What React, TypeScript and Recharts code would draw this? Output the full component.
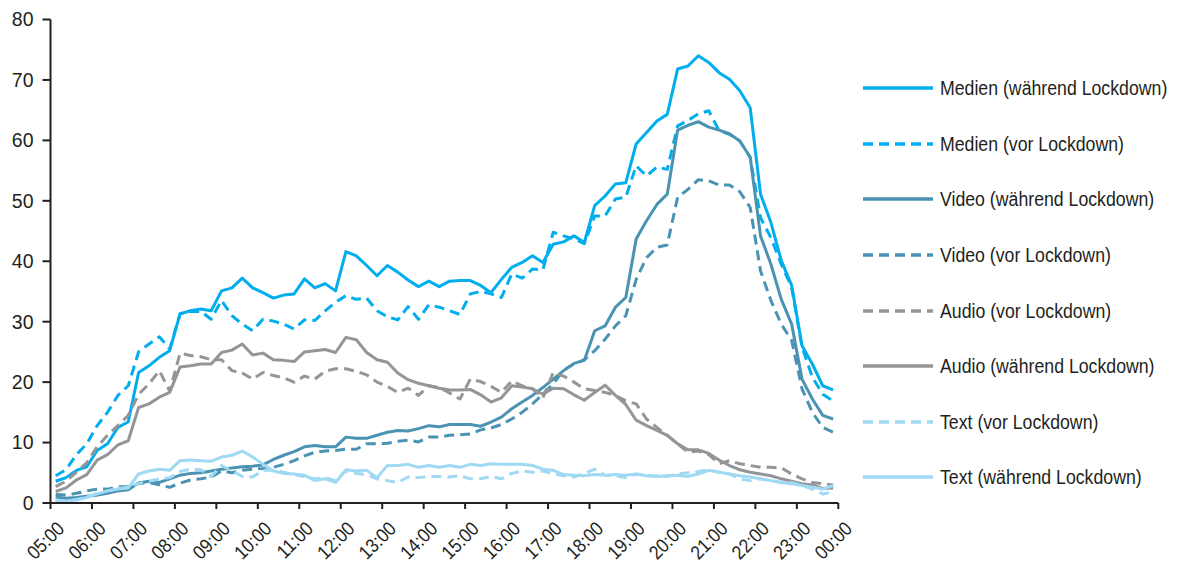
import React from 'react';
import { LineChart, Line, XAxis, YAxis, Legend } from 'recharts';

// Hour tick labels (05:00 .. 00:00); data are quarter-hour slots 05:00 .. 23:45
const hourLabels = ['05:00', '06:00', '07:00', '08:00', '09:00', '10:00', '11:00', '12:00', '13:00', '14:00', '15:00', '16:00', '17:00', '18:00', '19:00', '20:00', '21:00', '22:00', '23:00', '00:00'];
const yTicks = [0, 10, 20, 30, 40, 50, 60, 70, 80];

const medienWaehrend = [3.6, 4.2, 5.4, 6.0, 8.7, 9.8, 12.5, 13.4, 21.6, 22.7, 24.1, 25.2, 31.3, 31.8, 32.1, 31.8, 35.1, 35.6, 37.2, 35.6, 34.8, 33.9, 34.4, 34.6, 37.1, 35.6, 36.3, 35.1, 41.6, 40.9, 39.3, 37.6, 39.3, 38.2, 36.9, 35.8, 36.7, 35.8, 36.7, 36.8, 36.8, 36.0, 34.8, 37.0, 39.0, 39.8, 40.9, 39.8, 42.8, 43.2, 44.2, 43.1, 49.2, 50.8, 52.8, 53.0, 59.4, 61.3, 63.2, 64.3, 71.8, 72.3, 74.0, 72.9, 71.2, 70.1, 68.2, 65.4, 51.1, 46.4, 40.1, 36.0, 26.0, 23.0, 19.4, 18.7];
const medienVor = [4.5, 5.5, 8.0, 9.8, 12.8, 15.0, 17.8, 19.4, 25.0, 26.3, 27.5, 25.5, 31.3, 31.7, 31.7, 30.4, 33.5, 31.0, 29.6, 28.5, 30.4, 30.1, 29.6, 28.8, 30.3, 30.2, 31.8, 33.2, 34.3, 33.7, 33.9, 31.8, 30.8, 30.3, 32.5, 30.4, 32.8, 32.4, 31.8, 31.2, 34.6, 35.0, 34.6, 34.0, 37.9, 37.2, 38.7, 38.6, 44.8, 44.2, 43.7, 42.9, 47.5, 47.5, 50.3, 50.6, 55.8, 54.1, 55.6, 55.2, 62.4, 63.3, 64.4, 64.9, 61.6, 61.0, 59.9, 57.2, 47.2, 43.9, 39.5, 35.7, 25.8, 20.8, 18.0, 16.9];
const videoWaehrend = [1.0, 0.8, 0.9, 1.1, 1.3, 1.6, 2.0, 2.2, 3.3, 3.6, 3.4, 4.0, 4.6, 4.9, 5.0, 5.3, 5.6, 5.8, 6.0, 6.1, 6.3, 7.2, 7.9, 8.5, 9.3, 9.5, 9.3, 9.3, 10.9, 10.7, 10.7, 11.2, 11.7, 12.0, 11.9, 12.3, 12.8, 12.6, 13.0, 13.0, 13.0, 12.7, 13.4, 14.2, 15.6, 16.7, 17.8, 19.1, 20.5, 21.9, 23.1, 23.6, 28.5, 29.3, 32.4, 34.0, 43.7, 46.7, 49.4, 51.1, 61.7, 62.5, 63.1, 62.2, 61.7, 61.1, 59.9, 57.2, 44.2, 39.5, 33.7, 29.6, 20.5, 17.2, 14.5, 13.9];
const videoVor = [1.4, 1.3, 1.6, 2.0, 2.3, 2.3, 2.7, 2.7, 3.2, 3.4, 3.0, 2.6, 3.3, 3.8, 4.0, 4.3, 5.3, 5.0, 5.4, 5.6, 5.7, 5.9, 6.4, 7.0, 7.8, 8.4, 8.6, 8.7, 8.9, 8.9, 9.8, 9.8, 9.9, 10.2, 10.4, 10.1, 10.9, 10.9, 11.2, 11.3, 11.4, 12.1, 12.4, 13.0, 13.9, 15.0, 16.4, 18.0, 19.7, 22.0, 23.0, 23.7, 25.2, 27.1, 29.3, 31.0, 37.0, 40.6, 42.3, 42.7, 50.6, 51.9, 53.5, 53.3, 52.6, 52.6, 51.5, 48.9, 38.4, 33.5, 29.6, 26.9, 18.9, 15.0, 12.5, 11.7];
const audioVor = [2.7, 3.6, 5.1, 6.7, 9.3, 11.2, 12.8, 14.5, 18.0, 19.7, 21.9, 18.5, 24.8, 24.4, 24.2, 23.7, 23.7, 21.9, 21.5, 20.5, 21.6, 21.1, 20.7, 20.0, 21.0, 20.5, 21.8, 22.2, 22.2, 21.8, 21.2, 20.0, 19.3, 18.3, 19.0, 17.8, 19.4, 19.1, 18.2, 17.2, 20.5, 20.1, 19.3, 18.3, 20.2, 19.4, 18.9, 17.4, 21.6, 21.0, 20.0, 18.9, 18.6, 18.3, 17.8, 16.9, 16.4, 13.9, 12.5, 11.2, 9.8, 8.4, 8.6, 8.0, 6.5, 7.0, 6.5, 6.2, 5.9, 5.9, 5.8, 4.8, 4.0, 3.4, 3.2, 3.0];
const audioWaehrend = [1.9, 2.5, 3.8, 4.7, 7.1, 8.0, 9.6, 10.3, 15.8, 16.4, 17.5, 18.3, 22.5, 22.7, 23.0, 23.0, 24.9, 25.3, 26.3, 24.5, 24.8, 23.7, 23.6, 23.4, 25.0, 25.2, 25.4, 24.9, 27.4, 27.0, 24.9, 23.7, 23.3, 21.5, 20.4, 19.8, 19.4, 19.0, 18.7, 18.7, 18.8, 17.9, 16.7, 17.4, 19.4, 19.2, 18.9, 18.0, 19.0, 18.9, 17.9, 17.0, 18.3, 19.5, 17.8, 16.3, 13.7, 12.8, 12.0, 11.2, 9.8, 8.8, 8.8, 8.2, 7.1, 6.2, 5.5, 5.1, 4.8, 4.5, 4.0, 3.6, 3.2, 3.0, 2.4, 2.5];
const textVor = [0.5, 0.3, 0.6, 1.0, 1.6, 2.0, 2.4, 2.6, 3.2, 3.6, 4.0, 4.2, 5.2, 5.6, 5.5, 4.4, 6.2, 5.3, 4.4, 4.3, 5.4, 5.4, 5.1, 4.7, 4.4, 4.0, 4.2, 3.7, 5.3, 4.9, 4.7, 4.0, 3.7, 3.4, 4.3, 4.2, 4.4, 4.4, 4.3, 4.5, 4.0, 4.0, 4.4, 4.0, 4.9, 5.3, 5.1, 5.3, 4.8, 4.5, 4.3, 4.9, 5.6, 4.6, 4.5, 4.2, 4.8, 4.5, 4.5, 4.4, 4.8, 5.0, 5.2, 5.5, 5.1, 4.8, 4.0, 3.7, 4.0, 3.7, 3.4, 3.4, 2.9, 2.3, 1.5, 1.8];
const textWaehrend = [0.4, 0.3, 0.5, 0.9, 1.5, 2.0, 2.3, 2.5, 4.8, 5.3, 5.6, 5.4, 7.0, 7.1, 7.0, 6.9, 7.6, 7.9, 8.6, 7.6, 6.4, 5.3, 4.9, 4.8, 4.6, 3.7, 4.0, 3.4, 5.5, 5.3, 5.4, 4.2, 6.2, 6.2, 6.4, 5.9, 6.2, 5.9, 6.2, 5.9, 6.4, 6.2, 6.5, 6.4, 6.4, 6.4, 6.2, 5.6, 5.4, 4.7, 4.6, 4.5, 4.7, 4.6, 4.7, 4.6, 4.8, 4.5, 4.4, 4.5, 4.6, 4.4, 4.8, 5.4, 5.1, 4.8, 4.5, 4.3, 4.0, 3.7, 3.4, 3.2, 2.9, 2.6, 2.3, 2.9];

const COLORS = { medien: '#00AEEF', video: '#4A93B2', audio: '#949598', text: '#9FD9F4' };
const FONT = "'Liberation Sans', Arial, Helvetica, sans-serif";
const INK = '#231F20';

type Series = { key: string; name: string; values: number[]; color: string; dashed: boolean };

const series: Series[] = [
  { key: 'medienWaehrend', name: 'Medien (während Lockdown)', values: medienWaehrend, color: COLORS.medien, dashed: false },
  { key: 'medienVor', name: 'Medien (vor Lockdown)', values: medienVor, color: COLORS.medien, dashed: true },
  { key: 'videoWaehrend', name: 'Video (während Lockdown)', values: videoWaehrend, color: COLORS.video, dashed: false },
  { key: 'videoVor', name: 'Video (vor Lockdown)', values: videoVor, color: COLORS.video, dashed: true },
  { key: 'audioVor', name: 'Audio (vor Lockdown)', values: audioVor, color: COLORS.audio, dashed: true },
  { key: 'audioWaehrend', name: 'Audio (während Lockdown)', values: audioWaehrend, color: COLORS.audio, dashed: false },
  { key: 'textVor', name: 'Text (vor Lockdown)', values: textVor, color: COLORS.text, dashed: true },
  { key: 'textWaehrend', name: 'Text (während Lockdown)', values: textWaehrend, color: COLORS.text, dashed: false },
];

const data = medienWaehrend.map((_, i) => {
  const row: Record<string, number> = { slot: i + 0.5 };
  series.forEach((s) => {
    row[s.key] = s.values[i];
  });
  return row;
});

const xTicks = hourLabels.map((_, h) => h * 4);

function XTick(props: any) {
  const { x, y, payload } = props;
  const label = hourLabels[Math.round(payload.value / 4)];
  return (
    <text
      transform={`translate(${x + 15},${y + 21}) rotate(-45) scale(0.885,1)`}
      textAnchor="end"
      fontSize={19.5}
      fill={INK}
      fontFamily={FONT}
    >
      {label}
    </text>
  );
}

function LegendBox() {
  return (
    <div style={{ position: 'relative', width: 319, height: 420, fontFamily: FONT }}>
      {series.map((s, k) => (
        <div
          key={s.key}
          style={{ position: 'absolute', left: 0, top: k * 55.6, height: 24, display: 'flex', alignItems: 'center', whiteSpace: 'nowrap' }}
        >
          <svg width={72} height={8} style={{ display: 'block' }}>
            <line x1={1} y1={4} x2={71} y2={4} stroke={s.color} strokeWidth={3.5} strokeDasharray={s.dashed ? '10 6' : undefined} />
          </svg>
          <span
            style={{ marginLeft: 6, fontSize: 20, lineHeight: '24px', color: INK, display: 'inline-block', transform: 'scaleX(0.885)', transformOrigin: 'left center' }}
          >
            {s.name}
          </span>
        </div>
      ))}
    </div>
  );
}

export default function App() {
  return (
    <div style={{ position: 'absolute', left: 0, top: 0, width: 1181, height: 563, background: '#fff' }}>
      <LineChart width={1181} height={563} data={data} margin={{ top: 19.5, right: 342.7, bottom: 0, left: 0 }}>
        <XAxis
          type="number"
          dataKey="slot"
          domain={[0, 76]}
          ticks={xTicks}
          interval={0}
          height={60}
          tickSize={6}
          tickMargin={0}
          tick={<XTick />}
          axisLine={{ stroke: INK, strokeWidth: 2 }}
          tickLine={{ stroke: INK, strokeWidth: 2 }}
        />
        <YAxis
          type="number"
          domain={[0, 80]}
          ticks={yTicks}
          interval={0}
          width={50.5}
          tickSize={8}
          tickMargin={9}
          tick={{ fontSize: 19.5, fill: INK, fontFamily: FONT }}
          axisLine={{ stroke: INK, strokeWidth: 2 }}
          tickLine={{ stroke: INK, strokeWidth: 2 }}
        />
        <Legend
          layout="vertical"
          align="center"
          verticalAlign="middle"
          content={() => <LegendBox />}
          wrapperStyle={{ left: 862, top: 76.3, width: 319, height: 420 }}
        />
        {series.map((s) => (
          <Line
            key={s.key}
            type="linear"
            dataKey={s.key}
            name={s.name}
            stroke={s.color}
            strokeWidth={3}
            strokeDasharray={s.dashed ? '10 6' : undefined}
            strokeLinejoin="round"
            dot={false}
            activeDot={false}
            isAnimationActive={false}
          />
        ))}
      </LineChart>
    </div>
  );
}
